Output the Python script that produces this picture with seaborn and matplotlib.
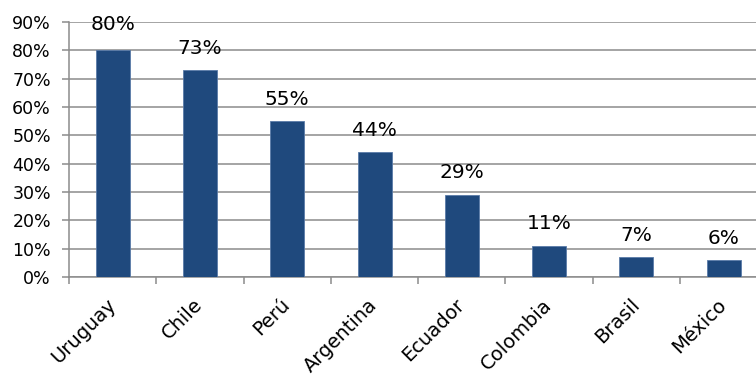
import matplotlib
matplotlib.use("Agg")
import matplotlib.pyplot as plt
import seaborn as sns
import pandas as pd
import numpy as np
from matplotlib.ticker import FixedLocator, PercentFormatter

countries = ["Uruguay", "Chile", "Perú", "Argentina", "Ecuador", "Colombia", "Brasil", "México"]
values = [80, 73, 55, 44, 29, 11, 7, 6]
labels = ["80%", "73%", "55%", "44%", "29%", "11%", "7%", "6%"]
yticks = [0, 10, 20, 30, 40, 50, 60, 70, 80, 90]

sns.set_theme(style="white")
plt.rcParams['font.family'] = ['DejaVu Sans']

df = pd.DataFrame({"country": countries, "value": values})

fig = plt.figure(figsize=(7.56, 3.79), dpi=100)
ax = fig.add_axes([69/756, 1-277/379, 1-69/756, (277-22)/379])

grid_c = "#8C8C8C"
sns.barplot(data=df, x="country", y="value", color="#1F497D", width=0.39,
            saturation=1, edgecolor="#5A7BA8", linewidth=0.6, ax=ax, zorder=3)

ax.set_ylim(0, 90)
ax.set_xlim(-0.5, 7.37)
ax.set_yticks(yticks)
ax.yaxis.set_major_formatter(PercentFormatter(decimals=0))
ax.grid(axis="y", color=grid_c, linewidth=1.1, zorder=0)
ax.set_axisbelow(True)
ax.set_xlabel("")
ax.set_ylabel("")

n = len(countries)
ax.xaxis.set_major_locator(FixedLocator(np.arange(-0.5, n, 1.0)))
ax.xaxis.set_major_formatter(plt.NullFormatter())
ax.set_xticks(np.arange(n), minor=True)
ax.set_xticklabels(countries, minor=True, rotation=45, ha="right",
                   va="center", rotation_mode="anchor", fontsize=14, color="black")
ax.tick_params(axis="x", which="major", length=5, width=1.1, color=grid_c, direction="out", bottom=True)
ax.tick_params(axis="x", which="minor", length=0, pad=18, bottom=True)
ax.tick_params(axis="y", length=5, width=1.1, color=grid_c, direction="out", left=True,
               labelsize=12.5, pad=8, labelcolor="black")

for s in ["top", "right"]:
    ax.spines[s].set_visible(False)
for s in ["left", "bottom"]:
    ax.spines[s].set_visible(True)
    ax.spines[s].set_color(grid_c)
    ax.spines[s].set_linewidth(1.1)

for i, (v, lab) in enumerate(zip(values, labels)):
    off = 12 if i == 0 else 9
    ax.annotate(lab, xy=(i, v), xytext=(0, off), textcoords="offset points",
                ha="center", va="bottom", fontsize=14.5, color="black",
                annotation_clip=False, zorder=5)

fig.savefig("out.png", dpi=100)
